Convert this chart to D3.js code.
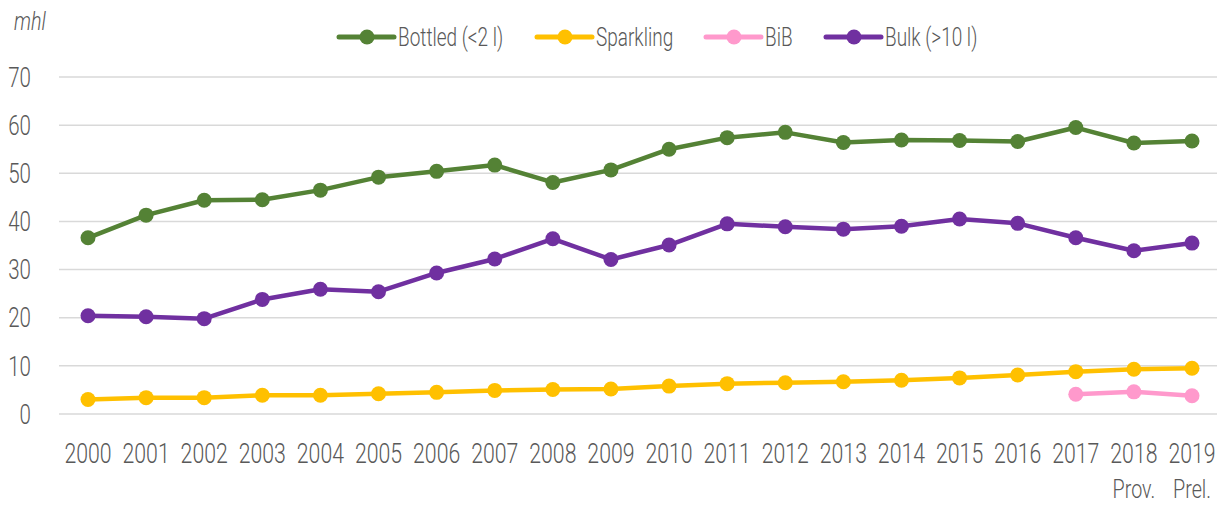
<!DOCTYPE html>
<html>
<head>
<meta charset="utf-8">
<script src="https://cdn.jsdelivr.net/npm/d3@7"></script>
<style>
    body { margin: 0; background: #fff; }
    text { font-family: Roboto, "Noto Sans", sans-serif; font-weight: 300; fill: #595959; }
</style>
</head>
<body>
<svg id="svg1"></svg>
<script>
// data
const years = ["2000", "2001", "2002", "2003", "2004", "2005", "2006", "2007", "2008", "2009",
    "2010", "2011", "2012", "2013", "2014", "2015", "2016", "2017", "2018", "2019"];
const bottled = [36.6, 41.3, 44.4, 44.5, 46.5, 49.2, 50.4, 51.7, 48.1, 50.7,
    55.0, 57.4, 58.5, 56.4, 56.9, 56.8, 56.6, 59.5, 56.3, 56.7];
const sparkling = [3.0, 3.4, 3.4, 3.9, 3.9, 4.2, 4.5, 4.9, 5.1, 5.2,
    5.8, 6.3, 6.5, 6.7, 7.0, 7.5, 8.1, 8.8, 9.3, 9.5];
const bib = [null, null, null, null, null, null, null, null, null, null,
    null, null, null, null, null, null, null, 4.1, 4.6, 3.8];
const bulk = [20.4, 20.2, 19.8, 23.8, 25.9, 25.4, 29.3, 32.2, 36.4, 32.1,
    35.1, 39.5, 38.9, 38.4, 39.0, 40.5, 39.6, 36.6, 33.9, 35.5];
const subLabels = { "2018": "Prov.", "2019": "Prel." };
const yTicks = [0, 10, 20, 30, 40, 50, 60, 70];

const series = [
    { name: "Bottled (<2 l)", color: "#548235", values: bottled },
    { name: "Sparkling", color: "#FFC000", values: sparkling },
    { name: "BiB", color: "#FF99CC", values: bib },
    { name: "Bulk (>10 l)", color: "#7030A0", values: bulk }
];

// layout
const width = 1217;
const height = 505;
const squeeze = 0.76; // no condensed font available, so narrow the glyphs

const svg = d3.select('#svg1')
    .attr('width', width)
    .attr('height', height);

const x = d3.scalePoint()
    .domain(years)
    .range([88, 1192]);

const y = d3.scaleLinear()
    .domain([0, 70])
    .range([414, 77]);

// place a text at (px, py) with squeezed glyphs
function at(px, py) {
    return 'translate(' + px + ',' + py + ') scale(' + squeeze + ',1)';
}

// gridlines
svg.append("g")
    .selectAll("line")
    .data(yTicks)
    .join("line")
    .attr("x1", 59)
    .attr("x2", width)
    .attr("y1", d => y(d))
    .attr("y2", d => y(d))
    .attr("stroke", "#d9d9d9")
    .attr("stroke-width", 1.5);

// y labels
svg.append("g")
    .selectAll("text")
    .data(yTicks)
    .join("text")
    .attr("transform", d => at(31, y(d)))
    .attr("dy", "0.36em")
    .attr("text-anchor", "end")
    .style("font-size", "27px")
    .text(d => d);

svg.append("text")
    .attr("transform", at(14, 30))
    .style("font-size", "26px")
    .style("font-style", "italic")
    .text("mhl");

// x labels
const xg = svg.append("g");
xg.selectAll("text.year")
    .data(years)
    .join("text")
    .attr("class", "year")
    .attr("transform", d => at(x(d), 463))
    .attr("text-anchor", "middle")
    .style("font-size", "28px")
    .text(d => d);
xg.selectAll("text.sub")
    .data(years.filter(d => subLabels[d]))
    .join("text")
    .attr("class", "sub")
    .attr("transform", d => at(x(d), 498))
    .attr("text-anchor", "middle")
    .style("font-size", "26px")
    .text(d => subLabels[d]);

// lines + markers
const line = d3.line()
    .defined(d => d.v != null)
    .x(d => x(d.year))
    .y(d => y(d.v));

series.forEach(function (s) {
    const pts = years.map((yr, i) => ({ year: yr, v: s.values[i] }));
    svg.append("path")
        .datum(pts)
        .attr("fill", "none")
        .attr("stroke", s.color)
        .attr("stroke-width", 4.5)
        .attr("stroke-linejoin", "round")
        .attr("d", line);
    svg.append("g")
        .selectAll("circle")
        .data(pts.filter(d => d.v != null))
        .join("circle")
        .attr("cx", d => x(d.year))
        .attr("cy", d => y(d.v))
        .attr("r", 7.5)
        .attr("fill", s.color);
});

// legend
const legendX = [339, 537, 706, 826];
const legend = svg.append("g")
    .selectAll("g")
    .data(series)
    .join("g")
    .attr("transform", (d, i) => "translate(" + legendX[i] + ",37)");
legend.append("line")
    .attr("x1", 0)
    .attr("x2", 55)
    .attr("stroke", d => d.color)
    .attr("stroke-width", 5)
    .attr("stroke-linecap", "round");
legend.append("circle")
    .attr("cx", 28)
    .attr("r", 7.5)
    .attr("fill", d => d.color);
legend.append("text")
    .attr("transform", at(59, 0))
    .attr("dy", "0.36em")
    .style("font-size", "25px")
    .text(d => d.name);
</script>
</body>
</html>
